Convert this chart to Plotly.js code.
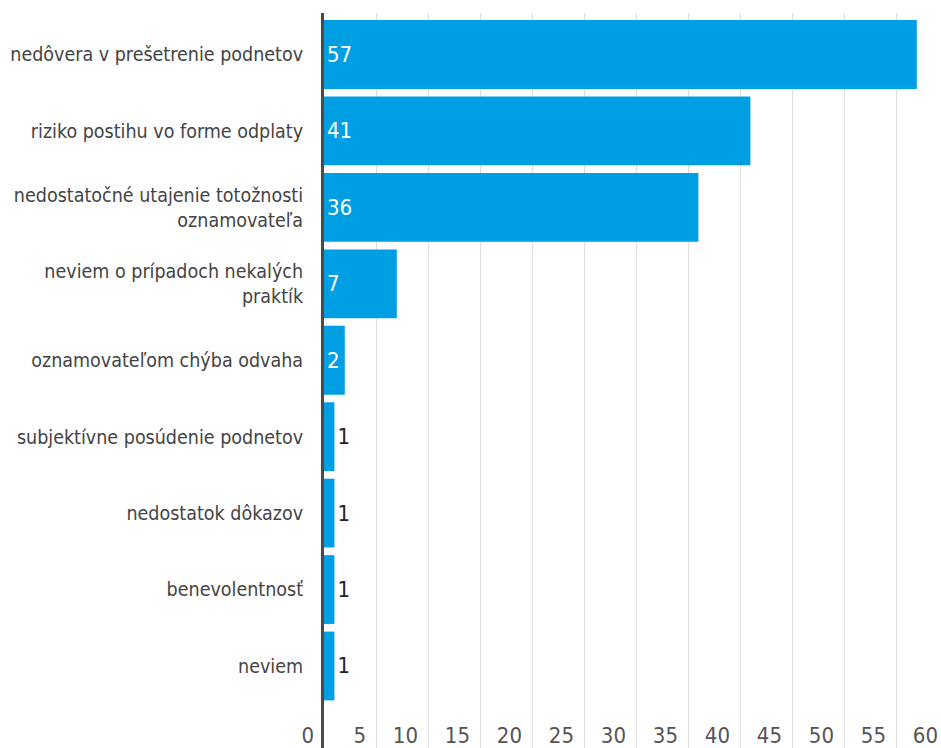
<!DOCTYPE html>
<html>
<head>
<meta charset="utf-8">
<script src="https://cdn.plot.ly/plotly-3.0.1.min.js"></script>
<style>
html, body { margin:0; padding:0; overflow:hidden; background:#fff; }
#chart { width:965px; height:748px; }
</style>
</head>
<body>
<div id="chart"></div>
<script>
const categories = [
  'nedôvera v prešetrenie podnetov',
  'riziko postihu vo forme odplaty',
  'nedostatočné utajenie totožnosti<br>oznamovateľa',
  'neviem o prípadoch nekalých<br>praktík',
  'oznamovateľom chýba odvaha',
  'subjektívne posúdenie podnetov',
  'nedostatok dôkazov',
  'benevolentnosť',
  'neviem'
];
const values = [57, 41, 36, 7, 2, 1, 1, 1, 1];
const xTicks = [0, 5, 10, 15, 20, 25, 30, 35, 40, 45, 50, 55, 60];

const FONT = '"DejaVu Sans Condensed", "Liberation Sans Narrow", sans-serif';

const trace = {
  type: 'bar',
  orientation: 'h',
  y: categories,
  x: values,
  text: values.map(String),
  textposition: 'auto',
  insidetextanchor: 'start',
  textangle: 0,
  insidetextfont: { family: FONT, size: 22, color: '#ffffff' },
  outsidetextfont: { family: FONT, size: 22, color: '#222222' },
  marker: { color: '#009fe3' },
  cliponaxis: false,
  hoverinfo: 'skip'
};

const layout = {
  width: 965,
  height: 748,
  margin: { l: 324, r: 17, t: 13, b: 0 },
  paper_bgcolor: '#ffffff',
  plot_bgcolor: '#ffffff',
  bargap: 0.1,
  showlegend: false,
  font: { family: FONT, color: '#444444' },
  xaxis: {
    range: [0, 60],
    tickvals: xTicks,
    ticktext: xTicks.map(String),
    showgrid: true,
    gridcolor: '#dddddd',
    gridwidth: 1,
    zeroline: false,
    showline: false,
    ticks: '',
    ticklabelposition: 'inside left',
    ticklabeloverflow: 'allow',
    ticklabelshift: -10,
    ticklabelstandoff: -5,
    tickfont: { family: FONT, size: 22, color: '#555555' },
    fixedrange: true
  },
  yaxis: {
    type: 'category',
    range: [9.073, -0.543],
    showgrid: false,
    zeroline: false,
    showline: true,
    linecolor: '#4a4a4a',
    linewidth: 3,
    ticks: '',
    ticklabelstandoff: 14,
    tickfont: { family: FONT, size: 19.5, color: '#444444' },
    fixedrange: true
  }
};

Plotly.newPlot('chart', [trace], layout, { displayModeBar: false, staticPlot: true });
</script>
</body>
</html>
